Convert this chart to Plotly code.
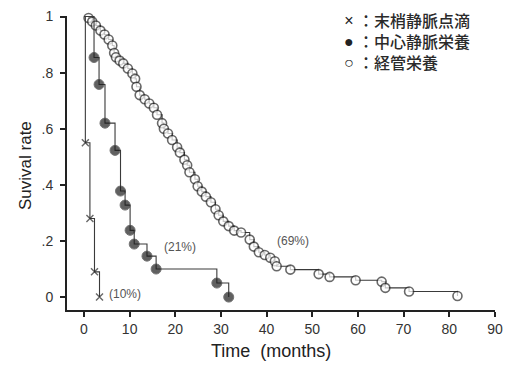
import plotly.graph_objects as go

# ---- data ----
peripheral_t = [0, 0.3, 1.3, 2.3, 3.4]
peripheral_s = [1.0, 0.55, 0.28, 0.09, 0.0]

central_t = [0, 2.2, 3.3, 4.6, 6.8, 8.0, 9.0, 10.1, 11.0, 13.8, 15.8, 29.1, 31.7]
central_s = [1.0, 0.854, 0.758, 0.62, 0.523, 0.378, 0.328, 0.238, 0.189, 0.146, 0.100, 0.05, 0.0]

tube_t = [0, 1.0, 1.8, 2.6, 3.6, 4.5, 5.4, 6.2, 6.6, 7.0, 7.8, 8.6, 9.6, 10.6, 11.2,
          11.5, 12.2, 13.3, 14.3, 15.3, 16.0, 17.1, 17.5, 18.4, 19.3, 20.4, 21.0,
          22.0, 22.6, 23.1, 24.3, 24.9, 25.8, 26.7, 27.8, 28.8, 29.5, 30.5, 31.7,
          32.9, 34.4, 36.3, 37.2, 38.3, 39.6, 40.8, 41.8, 42.2, 45.2, 51.4, 53.8,
          59.5, 65.2, 66.0, 71.2, 81.8]
tube_s = [1.0, 0.995, 0.982, 0.968, 0.950, 0.936, 0.918, 0.897, 0.870, 0.855, 0.843,
          0.833, 0.815, 0.797, 0.778, 0.750, 0.720, 0.705, 0.690, 0.675, 0.650, 0.620,
          0.600, 0.583, 0.560, 0.534, 0.515, 0.490, 0.470, 0.445, 0.420, 0.395, 0.376,
          0.358, 0.338, 0.313, 0.292, 0.270, 0.253, 0.237, 0.230, 0.205, 0.180, 0.160,
          0.150, 0.140, 0.128, 0.110, 0.098, 0.082, 0.072, 0.060, 0.055, 0.033, 0.020,
          0.004]

x_ticks = [0, 10, 20, 30, 40, 50, 60, 70, 80, 90]
y_ticks = [0, 0.2, 0.4, 0.6, 0.8, 1.0]
y_ticktext = ["0", ".2", ".4", ".6", ".8", "1"]

legend_labels = ["末梢静脈点滴", "中心静脈栄養", "経管栄養"]
legend_symbols = ["×", "●", "○"]
pct_labels = [("(10%)", 9.0, 0.01), ("(21%)", 21.0, 0.18), ("(69%)", 45.7, 0.20)]

LINE = "#3a3a3a"
FONT = "Liberation Sans, Arial, sans-serif"
CJK = "Noto Sans CJK JP"

def sizes(n, s):
    return [0] + [s] * (n - 1)

fig = go.Figure()
fig.add_trace(go.Scatter(
    x=tube_t, y=tube_s, mode="lines+markers", line_shape="hv",
    line=dict(color=LINE, width=1.1),
    marker=dict(symbol="circle", size=sizes(len(tube_t), 9), color="white",
                line=dict(color="#2a2a2a", width=1.6)),
    cliponaxis=False, showlegend=False))
fig.add_trace(go.Scatter(
    x=central_t, y=central_s, mode="lines+markers", line_shape="hv",
    line=dict(color=LINE, width=1.1),
    marker=dict(symbol="circle", size=sizes(len(central_t), 10), color="#1e1e1e"),
    cliponaxis=False, showlegend=False))
fig.add_trace(go.Scatter(
    x=peripheral_t, y=peripheral_s, mode="lines+markers", line_shape="hv",
    line=dict(color=LINE, width=1.1),
    marker=dict(symbol="x-thin", size=sizes(len(peripheral_t), 7),
                line=dict(color="#2a2a2a", width=1.4)),
    cliponaxis=False, showlegend=False))

W, H = 507, 367
L, R, T, B = 67, 495, 16, 310

def px(xp):
    return (xp - L) / (R - L)

def py(yp):
    return (B - yp) / (B - T)

ann = []
for (txt, tx, ty) in pct_labels:
    ann.append(dict(x=tx, y=ty, xref="x", yref="y", text=txt, showarrow=False,
                    font=dict(family=FONT, size=12, color="#555555")))

# legend block (three lines, ~20.8 px apart), centred on the middle row
ann.append(dict(x=px(349), y=py(41), xref="paper", yref="paper",
                text="<br>".join(legend_symbols), showarrow=False, align="center",
                xanchor="center", yanchor="middle",
                font=dict(family=FONT, size=16, color="#222222")))
ann.append(dict(x=px(356), y=py(41), xref="paper", yref="paper",
                text="<br>".join("：" + s for s in legend_labels), showarrow=False,
                align="left", xanchor="left", yanchor="middle",
                font=dict(family=CJK, size=16, color="#2a2a2a", weight=500)))

ann.append(dict(x=px(271), y=py(351), xref="paper", yref="paper",
                text="Time  (months)", showarrow=False, xanchor="center", yanchor="middle",
                font=dict(family=FONT, size=18, color="#222222")))
ann.append(dict(x=px(25), y=py(166), xref="paper", yref="paper",
                text="Suvival rate", showarrow=False, textangle=-90,
                xanchor="center", yanchor="middle",
                font=dict(family=FONT, size=17, color="#222222")))

fig.update_layout(
    width=W, height=H,
    margin=dict(l=L, r=W - R, t=T, b=H - B, autoexpand=False),
    paper_bgcolor="white", plot_bgcolor="white",
    annotations=ann,
    xaxis=dict(range=[-3.72, 90.02], tickvals=x_ticks, ticks="outside", ticklen=5,
               tickwidth=1.5, tickcolor="#222", showline=True, linewidth=2,
               linecolor="#222", showgrid=False, zeroline=False, automargin=False,
               ticklabeloverflow="allow",
               tickfont=dict(family=FONT, size=14, color="#333333")),
    yaxis=dict(range=[-0.046, 1.002], tickvals=y_ticks, ticktext=y_ticktext,
               ticks="outside", ticklen=5, tickwidth=1.5, tickcolor="#222",
               showline=True, linewidth=2, linecolor="#222", showgrid=False,
               zeroline=False, ticklabelstandoff=4, automargin=False,
               ticklabeloverflow="allow",
               tickfont=dict(family=FONT, size=14, color="#333333")),
)

fig.write_html(
    "out.html",
    config={"displayModeBar": False},
    post_script=("document.documentElement.style.overflow='hidden';"
                 "document.body.style.margin='0';"
                 "document.body.style.overflow='hidden';"),
)
